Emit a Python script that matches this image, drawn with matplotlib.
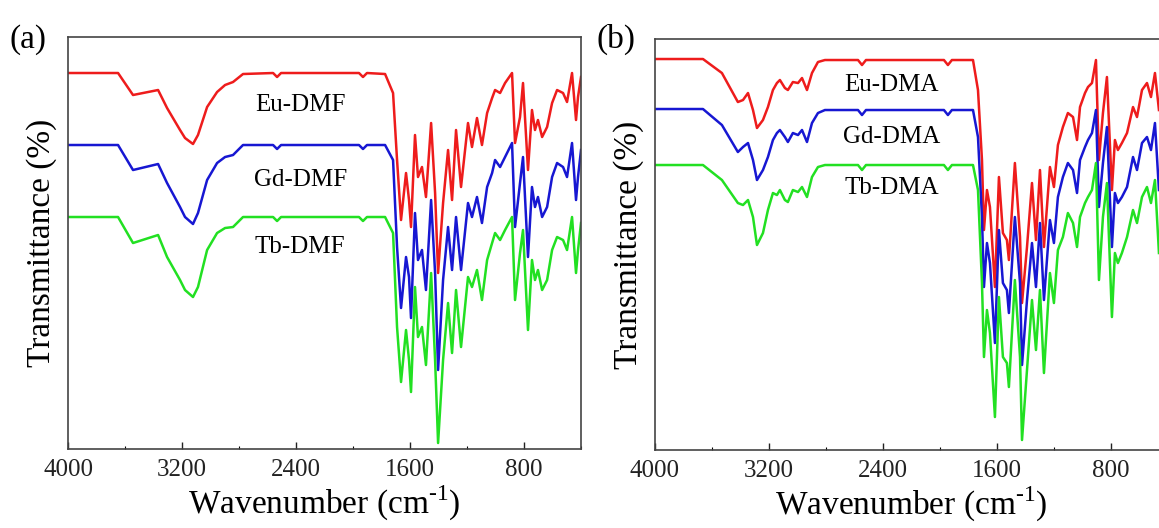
import matplotlib
matplotlib.use('Agg')
import matplotlib.pyplot as plt
from matplotlib.ticker import MultipleLocator

plt.rcParams['font.family'] = ['Liberation Serif', 'DejaVu Serif']
plt.rcParams['mathtext.fontset'] = 'custom'
plt.rcParams['mathtext.rm'] = 'Liberation Serif'

RED = '#ee1c1c'
BLUE = '#1717d2'
GREEN = '#22e022'

# (a) DMF samples
wn_dmf = [4000, 3649, 3544, 3368, 3305, 3214, 3179, 3123, 3088, 3024,
          2954, 2898, 2842, 2772, 2561, 2533, 2505, 1958, 1930, 1902,
          1775, 1719, 1691, 1663, 1628, 1607, 1593, 1565, 1544, 1516,
          1488, 1452, 1424, 1403, 1368, 1333, 1305, 1277, 1242, 1193,
          1165, 1130, 1095, 1059, 1024, 1003, 968, 933, 884, 863,
          828, 807, 772, 744, 723, 702, 673, 638, 603, 568,
          526, 498, 463, 435, 421, 400]

eu_dmf = [376, 376, 354, 359, 341, 319, 311, 305, 314, 342,
          357, 364, 367, 375, 376, 372, 376, 376, 372, 376,
          375, 356, 289, 229, 276, 249, 222, 314, 272, 282,
          252, 326, 256, 176, 246, 299, 249, 319, 262, 326,
          302, 331, 304, 336, 351, 359, 356, 366, 376, 306,
          332, 366, 279, 339, 319, 329, 312, 322, 346, 359,
          356, 347, 376, 329, 352, 372]

gd_dmf = [304, 304, 279, 285, 266, 242, 232, 225, 236, 269,
          286, 292, 294, 304, 304, 300, 304, 304, 300, 304,
          304, 289, 202, 141, 192, 172, 131, 236, 189, 199,
          159, 249, 176, 79, 169, 222, 179, 232, 179, 246,
          232, 252, 226, 262, 276, 289, 282, 292, 306, 222,
          266, 292, 192, 262, 242, 252, 232, 242, 272, 286,
          282, 272, 306, 249, 272, 299]

tb_dmf = [232, 232, 206, 214, 192, 169, 159, 152, 162, 199,
          216, 221, 222, 232, 232, 228, 232, 232, 228, 232,
          232, 216, 122, 67, 119, 89, 57, 162, 112, 122,
          84, 176, 89, 6, 89, 146, 96, 159, 102, 172,
          162, 179, 149, 189, 206, 216, 209, 219, 232, 149,
          196, 219, 119, 189, 169, 179, 159, 169, 199, 212,
          209, 199, 232, 176, 199, 226]

# (b) DMA samples
wn_dma = [4000, 3663, 3530, 3418, 3382, 3347, 3312, 3284, 3242, 3207,
          3172, 3144, 3123, 3088, 3067, 3032, 2996, 2968, 2933, 2898,
          2856, 2807, 2575, 2547, 2519, 1972, 1944, 1916, 1768, 1733,
          1705, 1691, 1670, 1649, 1614, 1586, 1558, 1530, 1516, 1474,
          1438, 1424, 1389, 1354, 1326, 1298, 1270, 1228, 1200, 1172,
          1137, 1102, 1066, 1038, 1017, 982, 961, 933, 905, 884,
          856, 828, 793, 772, 751, 723, 687, 645, 617, 582,
          547, 519, 491, 463]

eu_dma = [391, 391, 377, 348, 350, 357, 340, 322, 330, 343,
          360, 367, 370, 362, 360, 368, 367, 372, 360, 377,
          388, 390, 390, 385, 390, 390, 385, 390, 390, 360,
          290, 220, 260, 243, 163, 273, 217, 210, 190, 287,
          213, 147, 203, 267, 210, 280, 203, 283, 263, 305,
          323, 337, 333, 310, 343, 357, 363, 367, 390, 290,
          337, 373, 260, 310, 300, 307, 317, 343, 333, 360,
          367, 353, 377, 340]

gd_dma = [341, 341, 325, 298, 303, 307, 290, 270, 280, 293,
          310, 317, 320, 313, 308, 317, 315, 320, 308, 327,
          337, 340, 340, 335, 340, 340, 335, 340, 340, 313,
          233, 163, 207, 187, 107, 220, 167, 160, 137, 233,
          167, 85, 150, 207, 163, 227, 150, 230, 207, 253,
          273, 287, 280, 257, 290, 303, 310, 317, 340, 243,
          287, 323, 203, 257, 247, 253, 263, 293, 280, 307,
          313, 300, 327, 260]

tb_dma = [285, 285, 270, 247, 245, 250, 233, 205, 217, 240,
          257, 255, 260, 250, 248, 260, 258, 263, 253, 273,
          283, 285, 285, 280, 285, 285, 280, 285, 285, 260,
          167, 93, 140, 117, 33, 153, 93, 87, 63, 170,
          93, 10, 80, 150, 100, 160, 77, 177, 147, 200,
          213, 237, 227, 203, 233, 247, 253, 260, 287, 170,
          233, 267, 133, 197, 187, 197, 213, 240, 227, 253,
          263, 247, 270, 197]

labels_dmf = ['Eu-DMF', 'Gd-DMF', 'Tb-DMF']
labels_dma = ['Eu-DMA', 'Gd-DMA', 'Tb-DMA']


def style_axis(ax, top):
    ax.set_xlim(4000, 400)
    ax.set_ylim(0, top)
    ax.xaxis.set_major_locator(MultipleLocator(800))
    ax.xaxis.set_minor_locator(MultipleLocator(400))
    ax.tick_params(axis='x', which='major', direction='in', length=5,
                   width=1, labelsize=18, pad=7, colors='#222222')
    ax.tick_params(axis='x', which='minor', direction='in', length=2.5, width=0.8)
    ax.set_yticks([])
    for s in ax.spines.values():
        s.set_color('#444444')
        s.set_linewidth(1.2)
    ax.set_xlabel(r'Wavenumber (cm$^{\mathregular{\text{-}1}}$)', fontsize=24, labelpad=2)
    ax.set_ylabel('Transmittance (%)', fontsize=24, labelpad=8)


fig = plt.figure(figsize=(11.59, 5.28), dpi=100)

ax1 = fig.add_axes([0.0587, 0.1496, 0.4426, 0.7803])
ax1.plot(wn_dmf, eu_dmf, color=RED, lw=1.8)
ax1.plot(wn_dmf, gd_dmf, color=BLUE, lw=1.8)
ax1.plot(wn_dmf, tb_dmf, color=GREEN, lw=1.8)
style_axis(ax1, 412)
for lab, yy in zip(labels_dmf, [344, 269, 202]):
    ax1.text(2370, yy, lab, fontsize=18, ha='center', va='center')

ax2 = fig.add_axes([0.5651, 0.1477, 0.4426, 0.7784])
ax2.plot(wn_dma, eu_dma, color=RED, lw=1.8)
ax2.plot(wn_dma, gd_dma, color=BLUE, lw=1.8)
ax2.plot(wn_dma, tb_dma, color=GREEN, lw=1.8)
style_axis(ax2, 411)
for lab, yy in zip(labels_dma, [365, 313, 262]):
    ax2.text(2340, yy, lab, fontsize=18, ha='center', va='center')

fig.text(0.008, 0.925, '(a)', fontsize=24, va='center')
fig.text(0.515, 0.925, '(b)', fontsize=24, va='center')

fig.savefig('out.png', dpi=100)
